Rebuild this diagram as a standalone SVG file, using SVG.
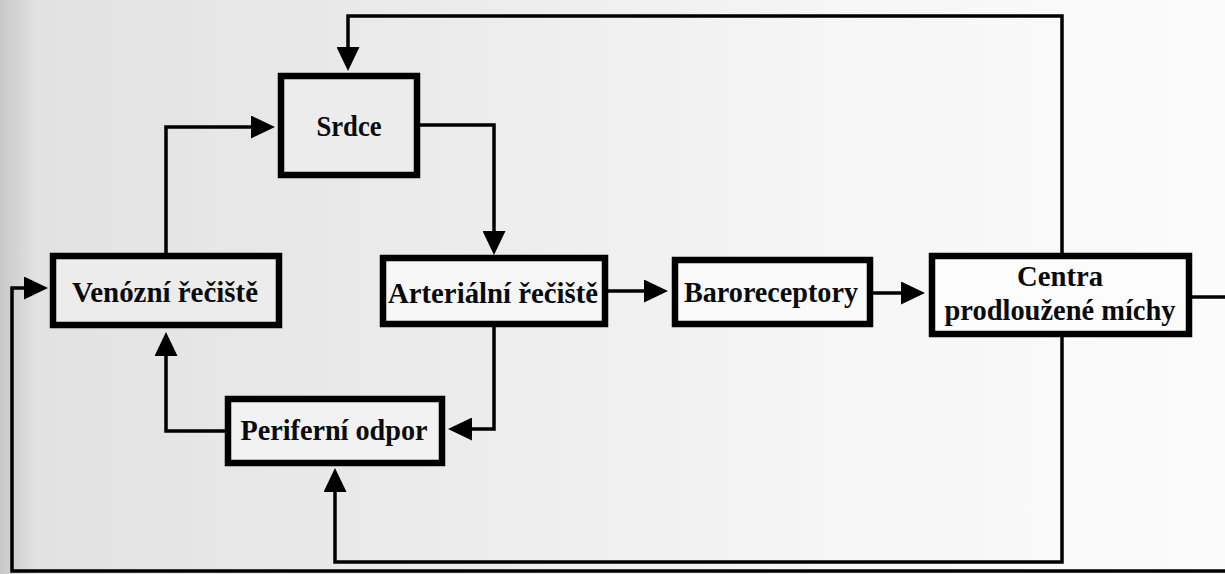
<svg xmlns="http://www.w3.org/2000/svg" width="1225" height="574" viewBox="0 0 1225 574">
<style>
.box{stroke:#000;stroke-width:6.5;}
.lbl{font-family:"Liberation Serif","DejaVu Serif",serif;font-weight:bold;font-size:30px;fill:#0a0a0a;text-anchor:middle;}
.con{fill:none;stroke:#000;stroke-width:3.5;stroke-linejoin:miter;}
</style>
<defs>
<linearGradient id="bg" x1="0" y1="0" x2="1" y2="0">
<stop offset="0" stop-color="#c8c8c8"/>
<stop offset="0.03" stop-color="#e2e2e2"/>
<stop offset="0.35" stop-color="#ebebeb"/>
<stop offset="0.7" stop-color="#f6f6f6"/>
<stop offset="1" stop-color="#fbfbfb"/>
</linearGradient>
<marker id="arr" viewBox="0 0 24 23" refX="16" refY="11.5" markerWidth="24" markerHeight="23" markerUnits="userSpaceOnUse" orient="auto">
<path d="M0,0 L24,11.5 L0,23 Z" fill="#000"/>
</marker>
</defs>
<rect x="0" y="0" width="1225" height="574" fill="url(#bg)"/>

<g id="connectors">
<path class="con" d="M1062,253 V16 H348 V63" marker-end="url(#arr)"/>
<path class="con" d="M420,125 H494 V247" marker-end="url(#arr)"/>
<path class="con" d="M166,253 V127 H267" marker-end="url(#arr)"/>
<path class="con" d="M608,291 H660" marker-end="url(#arr)"/>
<path class="con" d="M873,293 H917" marker-end="url(#arr)"/>
<path class="con" d="M1192,297 H1225"/>
<path class="con" d="M1225,571 H12 V288 H40" marker-end="url(#arr)"/>
<path class="con" d="M1062,337 V562 H335 V476" marker-end="url(#arr)"/>
<path class="con" d="M494,327 V429 H456" marker-end="url(#arr)"/>
<path class="con" d="M225,431 H166 V340" marker-end="url(#arr)"/>
</g>

<g id="srdce">
<rect class="box" x="281" y="76" width="136" height="99" fill="#ececec"/>
<text class="lbl" x="349" y="136" textLength="65" lengthAdjust="spacingAndGlyphs">Srdce</text>
</g>
<g id="venozni">
<rect class="box" x="53" y="256" width="226" height="69" fill="#ececec"/>
<text class="lbl" x="165" y="302" textLength="186" lengthAdjust="spacingAndGlyphs">Venózní řečiště</text>
</g>
<g id="arterialni">
<rect class="box" x="383" y="258" width="222" height="66" fill="#f6f6f6"/>
<text class="lbl" x="493" y="303" textLength="210" lengthAdjust="spacingAndGlyphs">Arteriální řečiště</text>
</g>
<g id="baroreceptory">
<rect class="box" x="675" y="260" width="195" height="64" fill="#fafafa"/>
<text class="lbl" x="771" y="302" textLength="174" lengthAdjust="spacingAndGlyphs">Baroreceptory</text>
</g>
<g id="centra">
<rect class="box" x="932" y="256" width="257" height="78" fill="#fcfcfc"/>
<text class="lbl" x="1060" y="286" textLength="86" lengthAdjust="spacingAndGlyphs">Centra</text>
<text class="lbl" x="1060" y="320" textLength="231" lengthAdjust="spacingAndGlyphs">prodloužené míchy</text>
</g>
<g id="periferni">
<rect class="box" x="228" y="399" width="214" height="64" fill="#f2f2f2"/>
<text class="lbl" x="334" y="440" textLength="187" lengthAdjust="spacingAndGlyphs">Periferní odpor</text>
</g>
</svg>
